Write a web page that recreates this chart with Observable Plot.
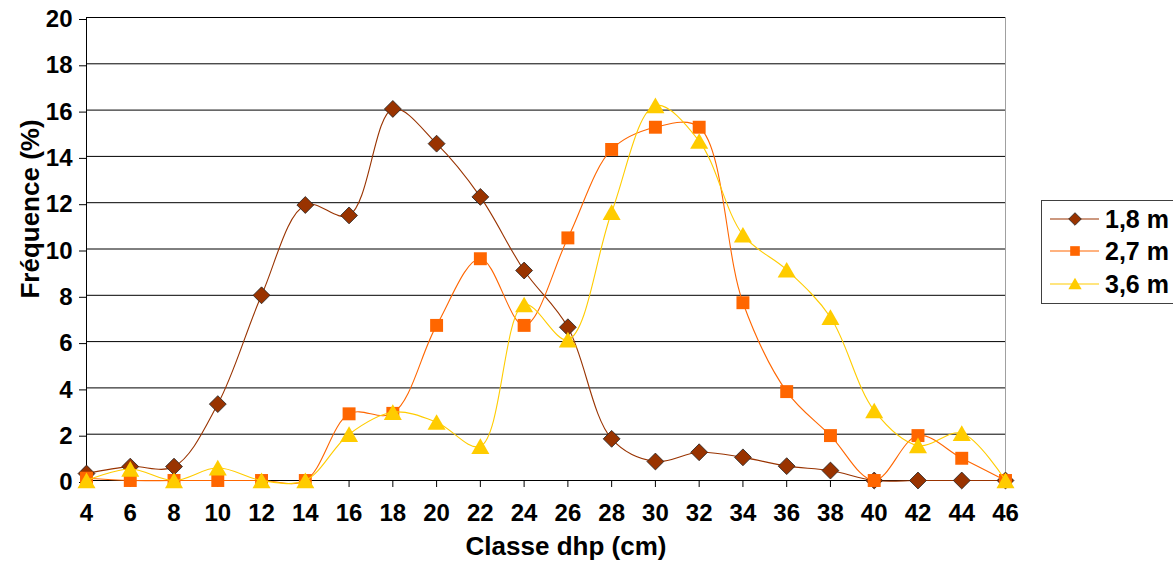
<!DOCTYPE html>
<html>
<head>
<meta charset="utf-8">
<script src="https://cdn.jsdelivr.net/npm/d3@7"></script>
<script src="https://cdn.jsdelivr.net/npm/@observablehq/plot@0.6"></script>
<style>
  html, body { margin: 0; padding: 0; background: #fff; overflow: hidden; }
  #wrap { position: relative; width: 1173px; height: 563px; overflow: hidden; font-family: "Liberation Sans", Arial, sans-serif; }
  #legend { position: absolute; left: 1041px; top: 200px; width: 160px; height: 102px; border: 1px solid #404040; background: #fff; }
  .row { position: absolute; left: 0; height: 32px; display: flex; align-items: center; }
  .row span { font-weight: bold; font-size: 25px; color: #000; margin-left: 3px; }
</style>
</head>
<body>
<div id="wrap"></div>
<script>
const classes = [4, 6, 8, 10, 12, 14, 16, 18, 20, 22, 24, 26, 28, 30, 32, 34, 36, 38, 40, 42, 44, 46];
const seriesNames = ["1,8 m", "2,7 m", "3,6 m"];
const v18 = [0.3, 0.6, 0.6, 3.3, 8.0, 11.9, 11.45, 16.05, 14.55, 12.25, 9.07, 6.62, 1.8, 0.82, 1.22, 1.0, 0.62, 0.43, 0, 0, 0, 0];
const v27 = [0.1, 0, 0, 0, 0, 0, 2.88, 2.9, 6.7, 9.58, 6.7, 10.48, 14.3, 15.26, 15.26, 7.68, 3.84, 1.94, 0, 1.94, 0.96, 0];
const v36 = [0, 0.5, 0, 0.55, 0, 0, 2.0, 2.95, 2.52, 1.48, 7.6, 6.08, 11.59, 16.2, 14.66, 10.61, 9.1, 7.05, 3.02, 1.51, 2.04, 0];
const yTicks = [0, 2, 4, 6, 8, 10, 12, 14, 16, 18, 20];
const colors = ["#993300", "#FF6600", "#FFCC00"];
const xTitle = "Classe dhp (cm)";
const yTitle = "Fréquence (%)";

const toRows = (vals) => classes.map((c, i) => ({x: c, y: vals[i]}));
const d18 = toRows(v18), d27 = toRows(v27), d36 = toRows(v36);

const font = "Liberation Sans, Arial, sans-serif";

const chart = Plot.plot({
  width: 1173,
  height: 563,
  marginLeft: 86,
  marginRight: 168,
  marginTop: 17,
  marginBottom: 83,
  style: {fontFamily: font, fontSize: "24px", fontWeight: "bold", color: "#000", background: "#fff", overflow: "visible"},
  x: {domain: [4, 46]},
  y: {domain: [0, 20]},
  marks: [
    Plot.frame({stroke: "#a0a0a0"}),
    Plot.gridY(yTicks, {stroke: "#000", strokeOpacity: 1, strokeWidth: 1}),
    Plot.ruleX([4], {stroke: "#000"}),
    Plot.ruleY([0], {stroke: "#000"}),
    Plot.axisY(yTicks, {tickSize: 7, tickPadding: 7, tickFormat: d => d, fontSize: 24, fontWeight: "bold", label: null, dy: 2}),
    Plot.axisX(classes, {tickSize: 7, tickPadding: 16, tickFormat: d => d, fontSize: 24, fontWeight: "bold", label: null}),
    Plot.text([yTitle], {frameAnchor: "left", textAnchor: "middle", lineAnchor: "middle", rotate: -90, dx: -56, dy: -40, fontSize: 26, fontWeight: "bold"}),
    Plot.text([xTitle], {frameAnchor: "bottom", textAnchor: "middle", lineAnchor: "middle", dx: 20, dy: 66, fontSize: 26, fontWeight: "bold"}),
    Plot.line(d18, {x: "x", y: "y", stroke: colors[0], strokeWidth: 1.1, curve: "catmull-rom"}),
    Plot.dot(d18, {x: "x", y: "y", symbol: "diamond2", r: 7.6, fill: colors[0], stroke: "#222", strokeWidth: 0.8}),
    Plot.line(d27, {x: "x", y: "y", stroke: colors[1], strokeWidth: 1.1, curve: "catmull-rom"}),
    Plot.dot(d27, {x: "x", y: "y", symbol: "square", r: 7.3, fill: colors[1], stroke: "none"}),
    Plot.line(d36, {x: "x", y: "y", stroke: colors[2], strokeWidth: 1.1, curve: "catmull-rom"}),
    Plot.dot(d36, {x: "x", y: "y", symbol: "triangle", r: 6.7, dy: 2.5, fill: colors[2], stroke: "none"})
  ]
});

const wrap = document.getElementById("wrap");
wrap.appendChild(chart);

// Legend
const legend = document.createElement("div");
legend.id = "legend";
const symbols = [d3.symbolDiamond2, d3.symbolSquare, d3.symbolTriangle];
const sizes = [184, 169, 140];
const strokes = ["#222", "none", "none"];
const rowTops = [2, 34, 67];
seriesNames.forEach((name, i) => {
  const row = document.createElement("div");
  row.className = "row";
  row.style.top = rowTops[i] + "px";
  const svg = d3.create("svg").attr("width", 60).attr("height", 32);
  svg.append("line").attr("x1", 8).attr("x2", 57).attr("y1", 16).attr("y2", 16)
    .attr("stroke", colors[i]).attr("stroke-width", 1.2);
  svg.append("path").attr("d", d3.symbol(symbols[i], sizes[i] * 0.55)())
    .attr("transform", `translate(33,${i === 2 ? 17.5 : 16})`)
    .attr("fill", colors[i]).attr("stroke", strokes[i]).attr("stroke-width", 0.8);
  row.appendChild(svg.node());
  const label = document.createElement("span");
  label.textContent = name;
  row.appendChild(label);
  legend.appendChild(row);
});
wrap.appendChild(legend);
</script>
</body>
</html>
